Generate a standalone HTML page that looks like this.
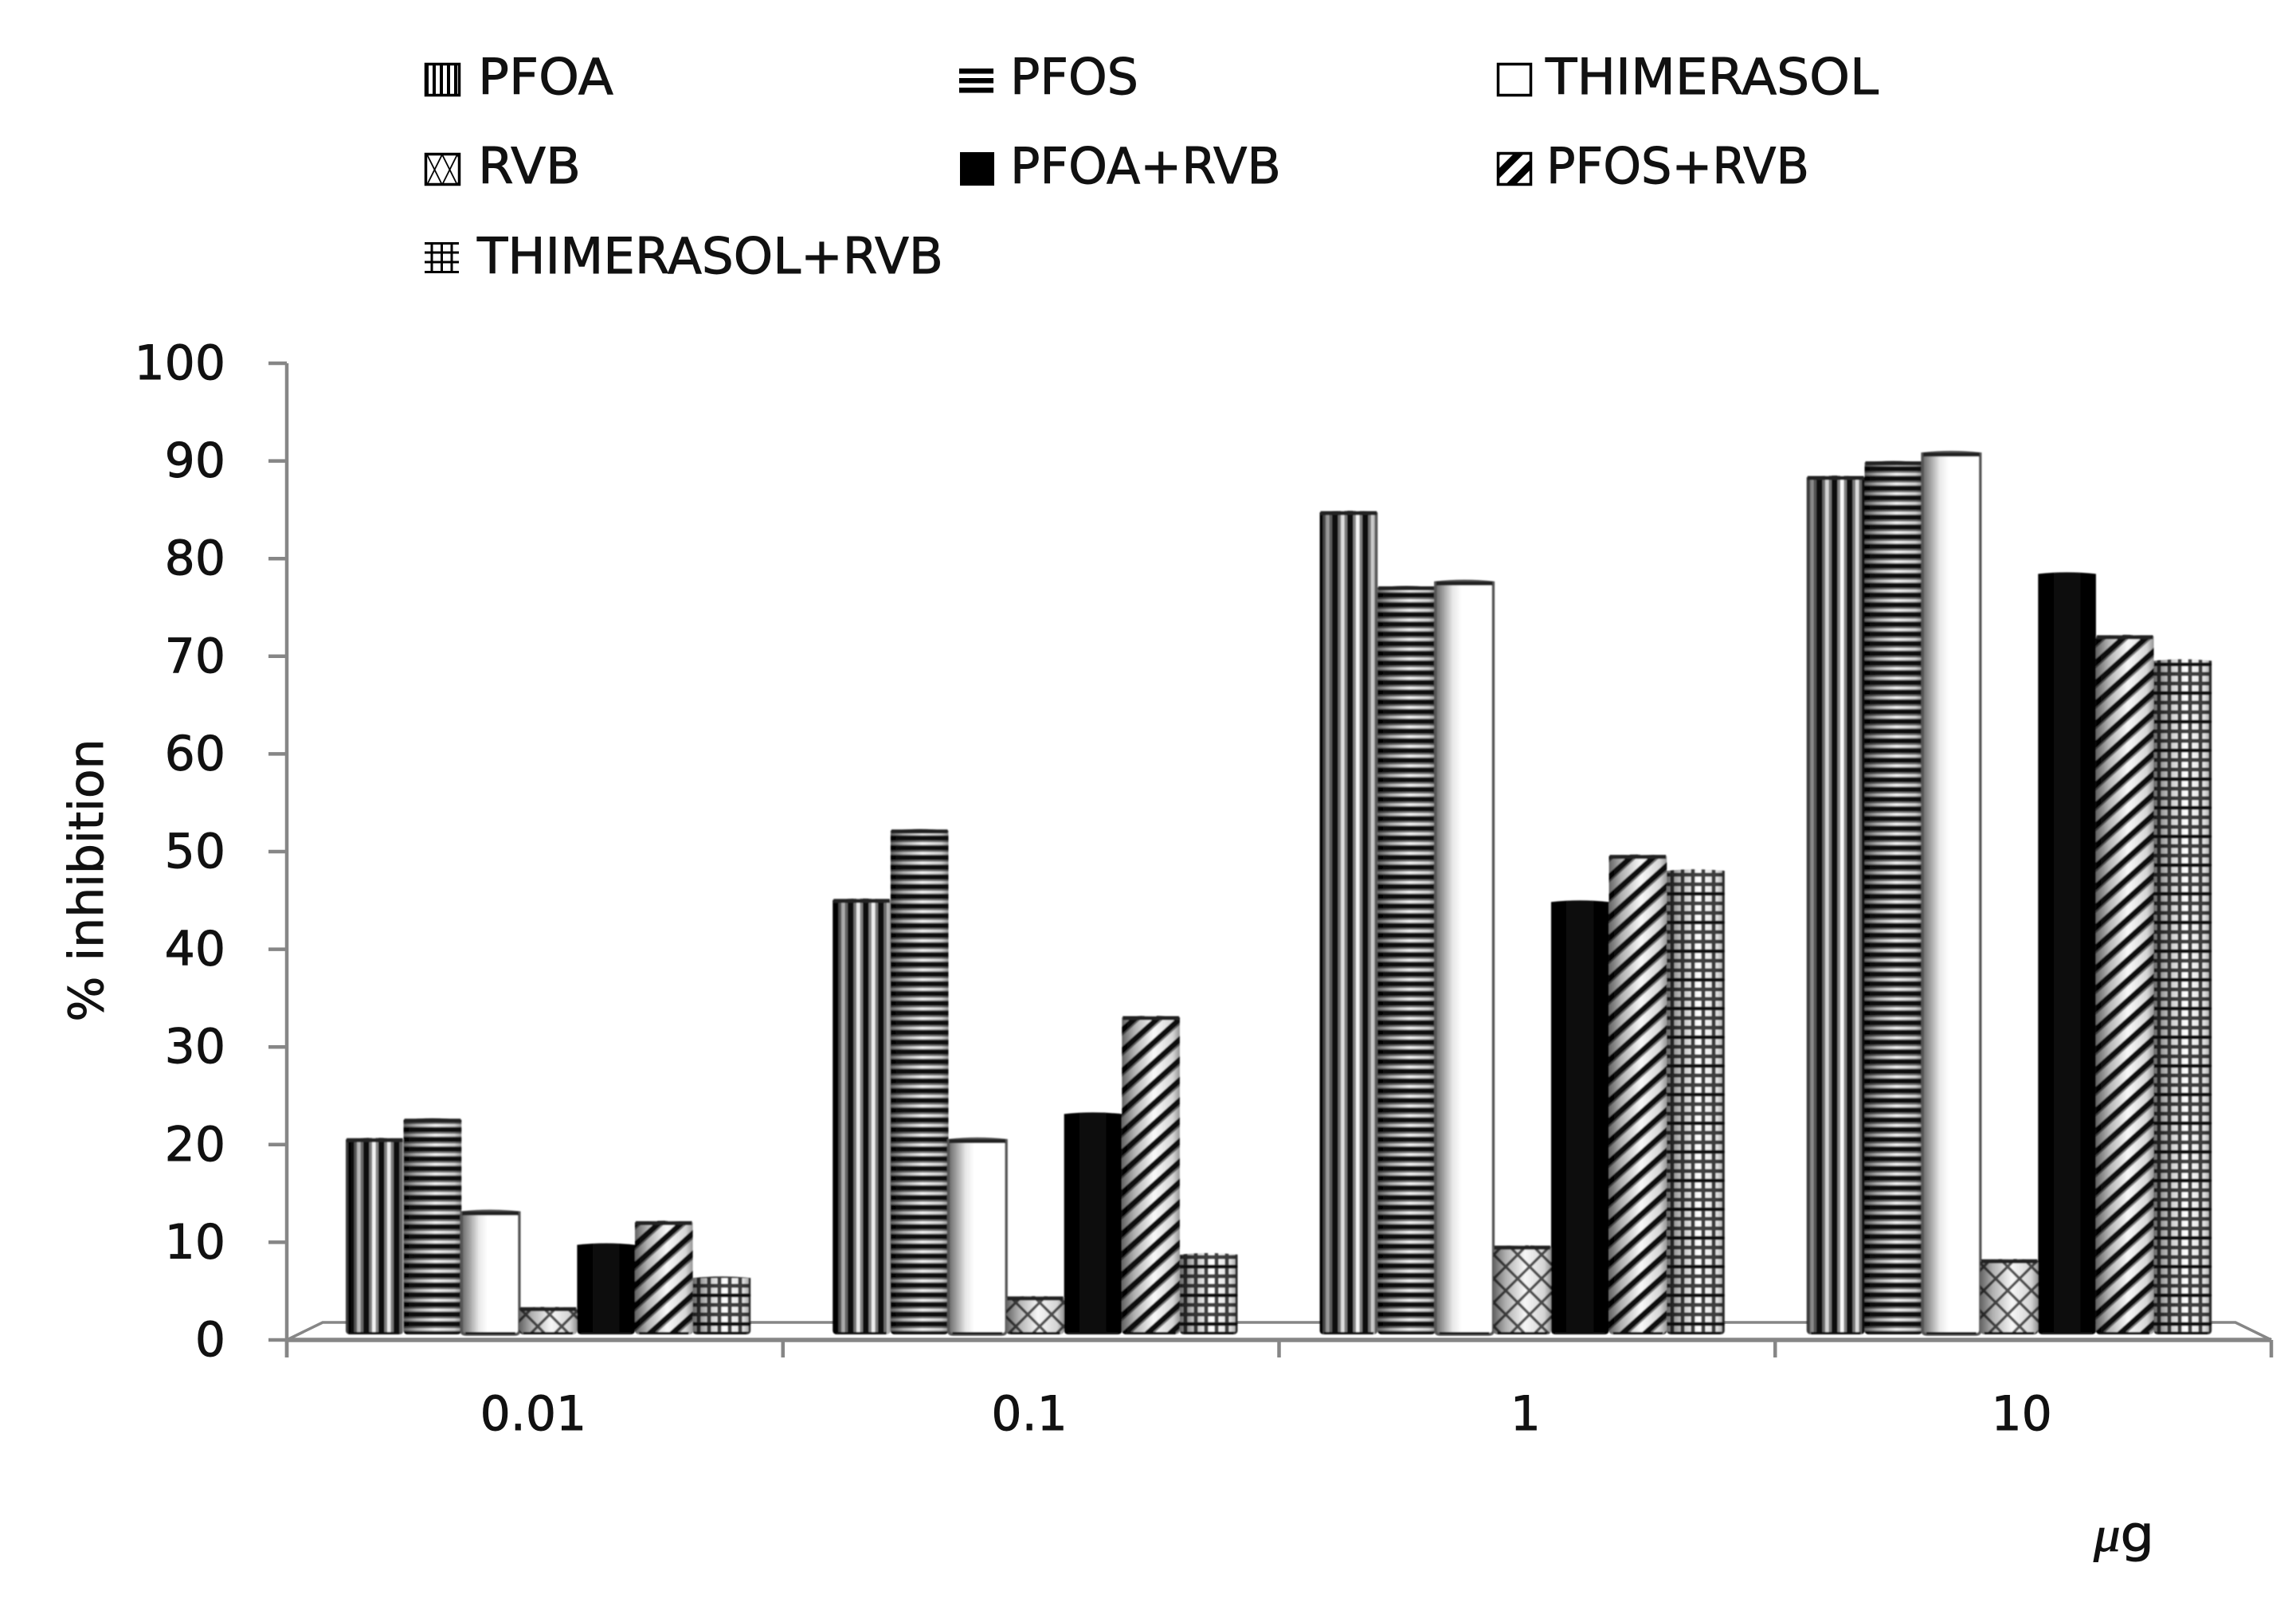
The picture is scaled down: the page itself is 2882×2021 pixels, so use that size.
<!DOCTYPE html>
<html lang="en">
<head>
<meta charset="utf-8">
<title>% inhibition by dose</title>
<style>
html,body{margin:0;padding:0;background:#fff;}
svg{display:block;}
text{font-family:"DejaVu Sans","Liberation Sans",sans-serif;fill:#111;stroke:#111;stroke-width:0.9px;}
</style>
</head>
<body>
<svg id="chart" xmlns="http://www.w3.org/2000/svg" width="2882" height="2021" viewBox="0 0 2882 2021">
  <defs>
    <pattern id="p-pfoa" patternUnits="userSpaceOnUse" width="19" height="10">
      <rect width="19" height="10" fill="#fff"/><rect x="0" width="7.500" height="10" fill="#0c0c0c"/><rect x="7.500" width="3.500" height="10" fill="#888"/><rect x="15.500" width="3.500" height="10" fill="#888"/>
    </pattern>
    <pattern id="p-pfos" patternUnits="userSpaceOnUse" width="10" height="12.2">
      <rect width="10" height="12.2" fill="#f4f4f4"/><rect y="0" width="10" height="6" fill="#0c0c0c"/><rect y="6" width="10" height="2" fill="#777"/><rect y="11" width="10" height="1.2" fill="#999"/>
    </pattern>
    <pattern id="p-rvb" patternUnits="userSpaceOnUse" width="30" height="30">
      <rect width="30" height="30" fill="#f6f6f6"/><path d="M0 0L30 30M30 0L0 30" stroke="#555" stroke-width="3.500" fill="none"/>
    </pattern>
    <pattern id="p-hatch" patternUnits="userSpaceOnUse" width="19" height="19" patternTransform="rotate(-42)">
      <rect width="19" height="19" fill="#f8f8f8"/><rect y="0" width="19" height="7" fill="#0c0c0c"/><rect y="7" width="19" height="2" fill="#888"/>
    </pattern>
    <pattern id="p-grid" patternUnits="userSpaceOnUse" width="39" height="36">
      <rect width="39" height="36" fill="#fff"/>
      <path d="M6 0V36M19 0V36M32 0V36M0 6H39M0 18H39M0 30H39" stroke="#444" stroke-width="5" fill="none"/>
      <path d="M0 6H39" stroke="#111" stroke-width="3.500" fill="none"/>
    </pattern>
    <linearGradient id="g-shade" x1="0" x2="1" y1="0" y2="0">
      <stop offset="0" stop-color="#000" stop-opacity=".6"/>
      <stop offset=".22" stop-color="#000" stop-opacity=".28"/>
      <stop offset=".55" stop-color="#000" stop-opacity="0"/>
      <stop offset=".88" stop-color="#000" stop-opacity=".14"/>
      <stop offset="1" stop-color="#000" stop-opacity=".4"/>
    </linearGradient>
    <linearGradient id="g-white" x1="0" x2="1" y1="0" y2="0">
      <stop offset="0" stop-color="#666"/>
      <stop offset=".12" stop-color="#999"/>
      <stop offset=".3" stop-color="#e8e8e8"/>
      <stop offset=".45" stop-color="#fff"/>
      <stop offset="1" stop-color="#fff"/>
    </linearGradient>
    <linearGradient id="g-black" x1="0" x2="1" y1="0" y2="0">
      <stop offset="0" stop-color="#000"/>
      <stop offset=".5" stop-color="#0c0c0c"/>
      <stop offset="1" stop-color="#000"/>
    </linearGradient>
    <pattern id="l-pfoa" patternUnits="userSpaceOnUse" x="534" y="0" width="9" height="10">
      <rect width="9" height="10" fill="#fff"/><rect width="4" height="10" fill="#000"/>
    </pattern>
    <pattern id="l-rvb" patternUnits="userSpaceOnUse" x="536" y="194" width="19" height="38">
      <rect width="19" height="38" fill="#fff"/><path d="M0 38L19 0M0 0L19 38" stroke="#000" stroke-width="1.800" fill="none"/>
    </pattern>
    <pattern id="l-hatch" patternUnits="userSpaceOnUse" width="20" height="20" patternTransform="rotate(-45)">
      <rect width="20" height="20" fill="#fff"/><rect width="20" height="9" fill="#000"/>
    </pattern>
    <filter id="soft" x="-5%" y="-5%" width="110%" height="110%"><feGaussianBlur stdDeviation="0.8"/></filter>
  </defs>

  <rect width="2882" height="2021" fill="#fff"/>

  <g id="axes"></g>
  <g id="bars" filter="url(#soft)"></g>
  <g id="labels"></g>

  <text transform="translate(129,1105) rotate(-90)" text-anchor="middle" font-size="60">% inhibition</text>
  <text x="2628" y="1947" font-size="62" textLength="76" lengthAdjust="spacingAndGlyphs"><tspan style="font-family:'Liberation Serif',serif;font-style:italic">μ</tspan><tspan>g</tspan></text>

  <g>
    <g>
      <rect x="534.5" y="80.5" width="42" height="39" fill="url(#l-pfoa)" stroke="#000" stroke-width="3.500"/>
      <text x="600" y="118" font-size="62" textLength="170" lengthAdjust="spacingAndGlyphs">PFOA</text>
    </g>
    <g>
      <path d="M1204 86h43v6.5h-43zM1204 98h43v6.5h-43zM1204 110h43v6.5h-43z" fill="#000"/>
      <text x="1268" y="118" font-size="62" textLength="161" lengthAdjust="spacingAndGlyphs">PFOS</text>
    </g>
    <g>
      <rect x="1880.5" y="80.5" width="41" height="39" fill="#fff" stroke="#000" stroke-width="3.500"/>
      <text x="1940" y="118" font-size="62" textLength="418" lengthAdjust="spacingAndGlyphs">THIMERASOL</text>
    </g>
    <g>
      <rect x="534.5" y="193.5" width="42" height="38" fill="url(#l-rvb)" stroke="#000" stroke-width="3.500"/>
      <text x="600" y="230" font-size="62" textLength="129" lengthAdjust="spacingAndGlyphs">RVB</text>
    </g>
    <g>
      <rect x="1205" y="191" width="43" height="42" fill="#000"/>
      <text x="1268" y="230" font-size="62" textLength="340" lengthAdjust="spacingAndGlyphs">PFOA+RVB</text>
    </g>
    <g>
      <rect x="1880.5" y="192.5" width="41" height="39" fill="url(#l-hatch)" stroke="#000" stroke-width="3.500"/>
      <text x="1941" y="230" font-size="62" textLength="330" lengthAdjust="spacingAndGlyphs">PFOS+RVB</text>
    </g>
    <g>
      <path d="M533 305.5h43M533 317h43M533 329h43M533 341.5h43M542 304v39M554.500 304v39M567 304v39" stroke="#000" stroke-width="3" fill="none"/>
      <text x="599" y="343" font-size="62" textLength="585" lengthAdjust="spacingAndGlyphs">THIMERASOL+RVB</text>
    </g>
  </g>
</svg>

<script>
const categories = ['0.01', '0.1', '1', '10'];
const yTicks = [0, 10, 20, 30, 40, 50, 60, 70, 80, 90, 100];
const pfoaValues = [20.7, 45.2, 84.9, 88.5];
const pfosValues = [22.7, 52.3, 77.2, 90.0];
const thimerasolValues = [13.2, 20.6, 77.7, 90.9];
const rvbValues = [3.4, 4.5, 9.7, 8.3];
const pfoaRvbValues = [9.9, 23.3, 45.0, 78.6];
const pfosRvbValues = [12.2, 33.2, 49.7, 72.2];
const thimerasolRvbValues = [6.5, 8.9, 48.2, 69.7];

const seriesKeys = ['pfoa', 'pfos', 'thimerasol', 'rvb', 'pfoa-rvb', 'pfos-rvb', 'thimerasol-rvb'];
const seriesValues = [pfoaValues, pfosValues, thimerasolValues, rvbValues, pfoaRvbValues, pfosRvbValues, thimerasolRvbValues];
const seriesFills = ['url(#p-pfoa)', 'url(#p-pfos)', 'url(#g-white)', 'url(#p-rvb)', 'url(#g-black)', 'url(#p-hatch)', 'url(#p-grid)'];

const NS = 'http://www.w3.org/2000/svg';
const axisLeft = 360, axisRight = 2851, axisY = 1682, tickBottom = 1704, tickLeft = 337;
const unitPx = 12.26, barBase = 1675, barW = 72.6, groupStart = 434, groupStep = 611.3;
const floorY = 1660, floorLeft = 405, floorRight = 2806;

function yScale(v) { return axisY - v * unitPx; }
function xTick(i) { return axisLeft + i * (axisRight - axisLeft) / categories.length; }
function xCenter(i) { return xTick(i) + (axisRight - axisLeft) / categories.length / 2 - 2; }
function barX(c, s) { return groupStart + c * groupStep + s * barW; }

function make(tag, attrs, parent) {
  const el = document.createElementNS(NS, tag);
  for (const k in attrs) el.setAttribute(k, attrs[k]);
  parent.appendChild(el);
  return el;
}
function barPath(x, top) {
  const r = x + barW;
  const arc = Math.min(2, (barBase - top) / 4);
  return 'M' + x + ' ' + (top + arc) + 'Q' + (x + barW / 2) + ' ' + (top - arc) + ' ' + r + ' ' + (top + arc) +
         'V' + (barBase - 5) + 'Q' + r + ' ' + barBase + ' ' + (r - 6) + ' ' + barBase +
         'H' + (x + 6) + 'Q' + x + ' ' + barBase + ' ' + x + ' ' + (barBase - 5) + 'Z';
}

const axes = document.getElementById('axes');
const bars = document.getElementById('bars');
const labels = document.getElementById('labels');
const axisStyle = { stroke: '#868686', 'stroke-width': 4.5, fill: 'none' };

const floor = make('path', Object.assign({}, axisStyle, {
  d: 'M' + axisLeft + ' ' + axisY + 'L' + floorLeft + ' ' + floorY + 'H' + floorRight + 'L' + axisRight + ' ' + axisY,
  'stroke-width': 3.5
}), axes);



const yAxis = make('line', Object.assign({}, axisStyle, { x1: axisLeft, x2: axisLeft, y1: yScale(100), y2: tickBottom }), axes);



const xAxis = make('line', Object.assign({}, axisStyle, { x1: axisLeft, x2: axisRight, y1: axisY, y2: axisY, 'stroke-width': 5.5 }), axes);



yTicks.forEach(function (t) {
  const tick = make('line', Object.assign({}, axisStyle, { x1: tickLeft, x2: axisLeft, y1: yScale(t), y2: yScale(t) }), axes);
  
  
  const lab = make('text', { x: 283, y: yScale(t) + 20, 'text-anchor': 'end', 'font-size': 60 }, labels);
  
  
  lab.textContent = t;
});

for (let i = 0; i <= categories.length; i++) {
  const tick = make('line', Object.assign({}, axisStyle, { x1: xTick(i), x2: xTick(i), y1: axisY, y2: tickBottom }), axes);
  
  
}

categories.forEach(function (cat, c) {
  const lab = make('text', { x: xCenter(c), y: 1795, 'text-anchor': 'middle', 'font-size': 60 }, labels);
  
  
  lab.textContent = cat;

  seriesKeys.forEach(function (key, s) {
    const v = seriesValues[s][c];
    const x = barX(c, s);
    const top = yScale(v);
    const d = barPath(x, top);

    const g = make('g', {}, bars);
    
    

    const body = make('path', { d: d, fill: seriesFills[s] }, g);
    
    

    if (key !== 'thimerasol' && key !== 'pfoa-rvb') {
      const shade = make('path', { d: d, fill: 'url(#g-shade)' }, g);
      
      
    }
    if (key === 'thimerasol') {
      const edge = make('path', { d: d, fill: 'none', stroke: '#555', 'stroke-width': 3.5 }, g);
      
      
    }
    if (key !== 'pfoa-rvb' && key !== 'thimerasol-rvb') {
      const cap = make('line', { x1: x + 1, x2: x + barW - 1, y1: top + 3, y2: top + 3, stroke: '#222', 'stroke-width': 5 }, g);
      
      
    }
    const foot = make('line', { x1: x + 5, x2: x + barW - 5, y1: barBase - 1.5, y2: barBase - 1.5, stroke: '#111', 'stroke-width': 3 }, g);
    
    
  });
});
</script>
</body>
</html>
